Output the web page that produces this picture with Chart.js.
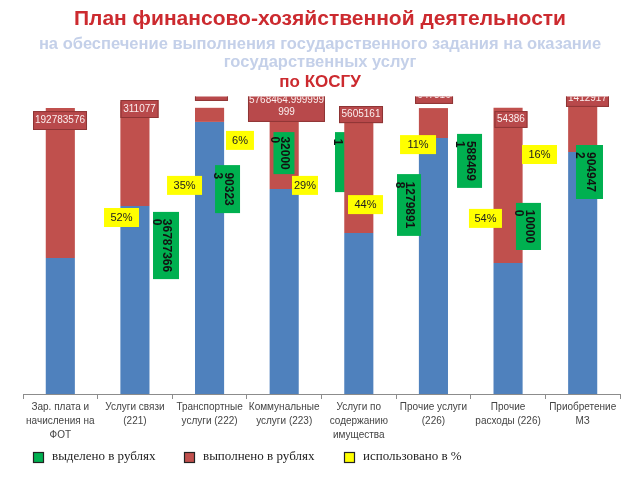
<!DOCTYPE html>
<html>
<head>
<meta charset="utf-8">
<script src="https://cdn.jsdelivr.net/npm/chart.js@4.4.1/dist/chart.umd.min.js"></script>
<style>
  html, body { margin: 0; padding: 0; background: #fff; }
  #wrap { width: 640px; height: 480px; }
</style>
</head>
<body>
<div id="wrap"><canvas id="kosguChart" width="640" height="480"></canvas></div>
<script>
const categories = [
    ['Зар. плата и', 'начисления на', 'ФОТ'],
    ['Услуги связи', '(221)'],
    ['Транспортные', 'услуги (222)'],
    ['Коммунальные', 'услуги (223)'],
    ['Услуги по', 'содержанию', 'имущества'],
    ['Прочие услуги', '(226)'],
    ['Прочие', 'расходы (226)'],
    ['Приобретение', 'МЗ']
];

// bar segments as drawn in the picture (share of the column height)
const bluePart = [45.3, 62.7, 90.7, 68.3, 53.7, 85.3, 43.7, 80.7];
const redPart = [50.0, 34.7, 4.7, 23.0, 36.7, 10.0, 51.7, 15.0];

// data labels
const allocatedRub = ['367873660', '903233', '320000', '19891251', '12798918', '5884691', '100000', '9049472'];
const executedRub = ['192783576', '311077', '19200', '5768464.999999999', '5605161', '647316', '54386', '1412917'];
const usedPercent = [52, 35, 6, 29, 44, 11, 54, 16];

// where the labels sit: dx in px from the category centre, top / bottom in axis units
const greenPos = [
    { dx: 105.7, top: 60.7, bottom: 38.3, w: 26, wrap: 8 },
    { dx: 92.6, top: 76.3, bottom: 60.3, w: 25, wrap: 5 },
    { dx: 74.4, top: 87.3, bottom: 73.3, w: 21, wrap: 5 },
    { dx: 63.3, top: 87.3, bottom: 67.3, w: 25, wrap: 7, behind: true },
    { dx: 50.2, top: 73.3, bottom: 52.7, w: 24, wrap: 7 },
    { dx: 36.1, top: 86.7, bottom: 68.7, w: 25, wrap: 6 },
    { dx: 20.4, top: 63.7, bottom: 48.0, w: 25, wrap: 5 },
    { dx: 6.8, top: 83.0, bottom: 65.0, w: 27, wrap: 6 }
];
const yellowPos = [
    { dx: 61.2, top: 62.0, w: 35 },
    { dx: 49.6, top: 72.7, w: 35 },
    { dx: 30.4, top: 87.7, w: 28 },
    { dx: 20.8, top: 72.7, w: 26 },
    { dx: 6.7, top: 66.3, w: 35 },
    { dx: -15.4, top: 86.3, w: 36 },
    { dx: -22.6, top: 61.7, w: 33 },
    { dx: -43.2, top: 83.0, w: 35 }
];
const redPos = [
    { dx: -0.3, top: 94.3, bottom: 88.0, w: 54 },
    { dx: 4.6, top: 98.0, bottom: 92.0, w: 38 },
    { dx: 1.9, top: 103.7, bottom: 97.7, w: 33 },
    { dx: 2.3, top: 101.3, bottom: 90.7, w: 77, wrap: 14 },
    { dx: 2.2, top: 96.0, bottom: 90.3, w: 44 },
    { dx: 0.6, top: 102.7, bottom: 96.7, w: 38 },
    { dx: 2.9, top: 94.3, bottom: 88.7, w: 33 },
    { dx: 4.8, top: 101.7, bottom: 95.7, w: 43 }
];

const FONT = '"Liberation Sans", Arial, sans-serif';

function splitAt(s, n) {
    if (!n || s.length <= n) return [s];
    return [s.slice(0, n), s.slice(n)];
}

function drawGreen(chart, behind) {
    const ctx = chart.ctx;
    const x = chart.scales.x, y = chart.scales.y;
    allocatedRub.forEach((val, i) => {
        const p = greenPos[i];
        if (!!p.behind !== behind) return;
        const cx = x.getPixelForValue(i) + p.dx;
        const top = y.getPixelForValue(p.top);
        const bot = y.getPixelForValue(p.bottom);
        ctx.fillStyle = '#00b050';
        ctx.fillRect(cx - p.w / 2, top, p.w, bot - top);
        const lines = splitAt(val, p.wrap);
        ctx.save();
        ctx.font = 'bold 12px ' + FONT;
        ctx.fillStyle = '#111';
        ctx.textBaseline = 'middle';
        ctx.textAlign = 'left';
        const off = (bot - top - ctx.measureText(lines[0]).width) / 2;
        ctx.translate(cx + 0.5, top + off);
        ctx.rotate(Math.PI / 2);
        lines.forEach((ln, k) => ctx.fillText(ln, 0, k * 10.5));
        ctx.restore();
    });
}

function drawRed(chart) {
    const ctx = chart.ctx;
    const x = chart.scales.x, y = chart.scales.y;
    executedRub.forEach((val, i) => {
        const p = redPos[i];
        const cx = x.getPixelForValue(i) + p.dx;
        const top = y.getPixelForValue(p.top);
        const bot = y.getPixelForValue(p.bottom);
        ctx.fillStyle = '#b8494b';
        ctx.fillRect(cx - p.w / 2, top, p.w, bot - top);
        ctx.strokeStyle = '#8e3535';
        ctx.lineWidth = 1;
        ctx.strokeRect(cx - p.w / 2 + 0.5, top + 0.5, p.w - 1, bot - top - 1);
        const lines = splitAt(val, p.wrap);
        ctx.font = '10px ' + FONT;
        ctx.fillStyle = '#fbeeee';
        ctx.textAlign = 'center';
        ctx.textBaseline = 'middle';
        const lh = 12.5;
        const mid = (top + bot) / 2 - (lines.length - 1) * lh / 2;
        lines.forEach((ln, k) => ctx.fillText(ln, cx, mid + k * lh));
    });
}

function drawYellow(chart) {
    const ctx = chart.ctx;
    const x = chart.scales.x, y = chart.scales.y;
    usedPercent.forEach((val, i) => {
        const p = yellowPos[i];
        const cx = x.getPixelForValue(i) + p.dx;
        const top = y.getPixelForValue(p.top);
        const h = 19;
        ctx.fillStyle = '#ffff00';
        ctx.fillRect(cx - p.w / 2, top, p.w, h);
        ctx.font = '11px ' + FONT;
        ctx.fillStyle = '#222';
        ctx.textAlign = 'center';
        ctx.textBaseline = 'middle';
        ctx.fillText(val + '%', cx, top + h / 2 + 0.5);
    });
}

function clipTop(ctx) {
    ctx.save();
    ctx.beginPath();
    ctx.rect(0, 96.5, 640, 400);
    ctx.clip();
}

const labelsPlugin = {
    id: 'kosguLabels',
    beforeDatasetsDraw(chart) {
        clipTop(chart.ctx);
        drawGreen(chart, true);
        chart.ctx.restore();
    },
    afterDatasetsDraw(chart) {
        clipTop(chart.ctx);
        drawRed(chart);
        drawGreen(chart, false);
        drawYellow(chart);
        chart.ctx.restore();
    },
    afterDraw(chart) {
        const ctx = chart.ctx;
        ctx.save();
        ctx.textAlign = 'center';
        ctx.textBaseline = 'middle';
        ctx.fillStyle = '#cc2a2f';
        ctx.font = 'bold 21px ' + FONT;
        ctx.fillText('План финансово-хозяйственной деятельности', 320, 19);
        ctx.fillStyle = '#c4d0e9';
        ctx.font = 'bold 16.5px ' + FONT;
        ctx.fillText('на обеспечение выполнения государственного задания на оказание', 320, 44);
        ctx.fillText('государственных услуг', 320, 62.5);
        ctx.fillStyle = '#cc2a2f';
        ctx.font = 'bold 17px ' + FONT;
        ctx.fillText('по КОСГУ', 320, 82);

        // legend
        const items = [
            { color: '#00b050', text: 'выделено в рублях', x: 33 },
            { color: '#c0504d', text: 'выполнено в рублях', x: 184 },
            { color: '#ffff00', text: 'использовано в %', x: 344 }
        ];
        ctx.textAlign = 'left';
        ctx.font = '13px "Liberation Serif", "Times New Roman", serif';
        items.forEach(it => {
            ctx.fillStyle = it.color;
            ctx.fillRect(it.x, 452, 11, 11);
            ctx.strokeStyle = '#222';
            ctx.lineWidth = 1.2;
            ctx.strokeRect(it.x + 0.5, 452.5, 10, 10);
            ctx.fillStyle = '#222';
            ctx.fillText(it.text, it.x + 19, 457);
        });
        ctx.restore();
    }
};

new Chart(document.getElementById('kosguChart'), {
    type: 'bar',
    data: {
        labels: categories,
        datasets: [
            { label: 'синий', data: bluePart, backgroundColor: '#4f81bd' },
            { label: 'красный', data: redPart, backgroundColor: '#c0504d' }
        ]
    },
    options: {
        responsive: false,
        animation: false,
        layout: { padding: { left: 23, right: 20, top: 94, bottom: 0 } },
        datasets: { bar: { barPercentage: 0.39, categoryPercentage: 1 } },
        plugins: { legend: { display: false }, tooltip: { enabled: false } },
        scales: {
            x: {
                stacked: true,
                offset: true,
                grid: { offset: true, drawOnChartArea: false, tickLength: 5, color: '#8c8c8c' },
                border: { color: '#8c8c8c' },
                ticks: {
                    autoSkip: false,
                    maxRotation: 0,
                    padding: 1,
                    color: '#444',
                    font: { size: 10, family: FONT, lineHeight: 1.4 }
                },
                afterFit: scale => { scale.height = 86; }
            },
            y: { stacked: true, display: false, min: 0, max: 100 }
        }
    },
    plugins: [labelsPlugin]
});
</script>
</body>
</html>
